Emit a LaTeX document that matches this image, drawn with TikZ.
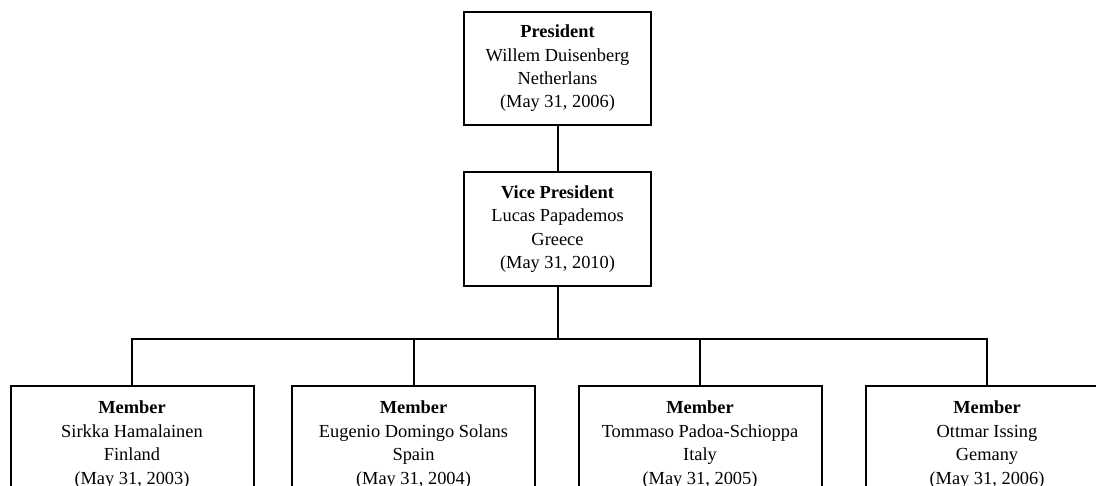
\documentclass[tikz,border=0pt]{standalone}
\usepackage{fontspec}
\setmainfont{Liberation Serif}
\usetikzlibrary{positioning}

\begin{document}
\begin{tikzpicture}[
  x=0.5pt,
  y=-0.5pt,
  font=\fontsize{9.2}{11.7}\selectfont,
  post/.style={draw, line width=1pt, align=center, inner sep=2pt, minimum width=93.5pt, minimum height=56.5pt},
  member/.style={draw, line width=1pt, align=center, inner sep=2pt, minimum width=121.5pt, minimum height=58.5pt},
  link/.style={line width=1pt}
]
  \useasboundingbox (0,0) rectangle (1096,486);
  \clip (0,0) rectangle (1096,486);

  \node[post] (president) at (557.5, 68.5) {\textbf{President}\\Willem Duisenberg\\Netherlans\\(May 31, 2006)};
  \node[post] (vice) at (557.5, 229) {\textbf{Vice President}\\Lucas Papademos\\Greece\\(May 31, 2010)};

  \node[member] (finland) at (132, 444.5) {\textbf{Member}\\Sirkka Hamalainen\\Finland\\(May 31, 2003)};
  \node[member] (spain) at (413.5, 444.5) {\textbf{Member}\\Eugenio Domingo Solans\\Spain\\(May 31, 2004)};
  \node[member] (italy) at (700, 444.5) {\textbf{Member}\\Tommaso Padoa-Schioppa\\Italy\\(May 31, 2005)};
  \node[member] (germany) at (987, 444.5) {\textbf{Member}\\Ottmar Issing\\Gemany\\(May 31, 2006)};

  \coordinate (bus) at (557.5, 339);

  \draw[link] (president.south) -- (vice.north);
  \draw[link] (vice.south) -- (bus);
  \foreach \m in {finland, spain, italy, germany}
    \draw[link] (bus) -| (\m.north);
\end{tikzpicture}
\end{document}
